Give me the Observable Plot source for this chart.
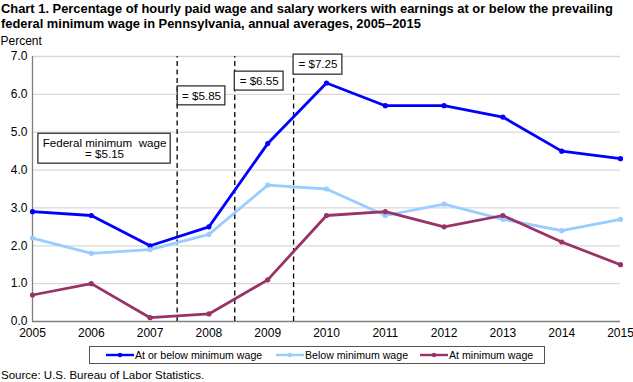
<!DOCTYPE html>
<html>
<head>
<meta charset="utf-8">
<script src="https://cdn.jsdelivr.net/npm/d3@7"></script>
<script src="https://cdn.jsdelivr.net/npm/@observablehq/plot@0.6"></script>
<style>
  body { margin: 0; background: #fff; font-family: Arial, "Liberation Sans", sans-serif; }
  #wrap { position: relative; width: 633px; height: 382px; overflow: hidden; }
  #title { position: absolute; left: 1px; top: 1px; font-weight: bold; font-size: 12.9px; line-height: 15px; color: #000; white-space: nowrap; }
  #chart { position: absolute; left: 0; top: 34px; }
  #legend { position: absolute; left: 89px; top: 346px; width: 454px; height: 16px; border: 1px solid #555; box-sizing: content-box; font-size: 10.6px; }
  .item { position: absolute; top: 0; height: 16px; display: flex; align-items: center; }
  #source { position: absolute; left: 1px; top: 369px; font-size: 11.5px; }
</style>
</head>
<body>
<div id="wrap">
  <div id="title">Chart 1. Percentage of hourly paid wage and salary workers with earnings at or below the prevailing<br>federal minimum wage in Pennsylvania, annual averages, 2005–2015</div>
  <div id="chart"></div>
  <div id="legend"></div>
  <div id="source">Source: U.S. Bureau of Labor Statistics.</div>
</div>
<script>
const years = [2005, 2006, 2007, 2008, 2009, 2010, 2011, 2012, 2013, 2014, 2015];
const atOrBelow = [2.9, 2.8, 2.0, 2.5, 4.7, 6.3, 5.7, 5.7, 5.4, 4.5, 4.3];
const belowMin = [2.2, 1.8, 1.9, 2.3, 3.6, 3.5, 2.8, 3.1, 2.7, 2.4, 2.7];
const atMin = [0.7, 1.0, 0.1, 0.2, 1.1, 2.8, 2.9, 2.5, 2.8, 2.1, 1.5];
const seriesNames = ["At or below minimum wage", "Below minimum wage", "At minimum wage"];
const seriesColors = ["#0000ff", "#99ccff", "#993366"];
const yTicks = [0, 1, 2, 3, 4, 5, 6, 7];

// Minimum wage change markers (year position of the dashed line)
const wageChanges = [2007.46, 2008.44, 2009.44];
// Annotation boxes
const notes = [
  {x1: 2005.1, x2: 2007.35, y1: 4.17, y2: 4.96, lines: ["Federal minimum  wage", "= $5.15"]},
  {x1: 2007.47, x2: 2008.28, y1: 5.71, y2: 6.21, lines: ["= $5.85"]},
  {x1: 2008.44, x2: 2009.27, y1: 6.10, y2: 6.60, lines: ["= $6.55"]},
  {x1: 2009.44, x2: 2010.27, y1: 6.52, y2: 7.05, lines: ["= $7.25"]}
];

const seriesValues = [atOrBelow, belowMin, atMin];
const data = [];
seriesNames.forEach((name, i) => {
  years.forEach((yr, j) => data.push({series: name, year: yr, value: seriesValues[i][j]}));
});

const noteText = notes.map(n => ({x: (n.x1 + n.x2) / 2, y: (n.y1 + n.y2) / 2, text: n.lines.join("\n")}));

const chart = Plot.plot({
  width: 633,
  height: 306,
  marginLeft: 32,
  marginRight: 13,
  marginTop: 22,
  marginBottom: 19,
  style: {fontFamily: "Arial, 'Liberation Sans', sans-serif", fontSize: "12px", color: "#000", background: "#fff"},
  x: {domain: [2005, 2015], ticks: years, tickFormat: d => String(d)},
  y: {domain: [0, 7], ticks: yTicks},
  color: {domain: seriesNames, range: seriesColors},
  marks: [
    Plot.gridY(yTicks.filter(d => d > 0), {stroke: "#d9d9d9", strokeOpacity: 1, strokeWidth: 1.3}),
    Plot.axisX({ticks: years, tickSize: 0, tickPadding: 7, tickFormat: d => String(d), fontSize: 12, label: null}),
    Plot.axisY({ticks: yTicks, tickSize: 0, tickPadding: 5, tickFormat: d => d.toFixed(1), fontSize: 12, label: null}),
    Plot.ruleY([0], {stroke: "#7f7f7f", strokeWidth: 1.3}),
    Plot.ruleX([2005], {stroke: "#7f7f7f", strokeWidth: 1.3}),
    Plot.ruleX(wageChanges, {x: d => d, y1: 0, y2: 7, stroke: "#000", strokeWidth: 1.3, strokeDasharray: "5,3.5"}),
    Plot.line(data, {x: "year", y: "value", z: "series", stroke: "series", strokeWidth: 2.8}),
    Plot.dot(data, {x: "year", y: "value", fill: "series", r: 2.6}),
    Plot.rect(notes, {x1: "x1", x2: "x2", y1: "y1", y2: "y2", fill: "#fff", stroke: "#222", strokeWidth: 1.2}),
    Plot.text(noteText, {x: "x", y: "y", text: "text", fontSize: 11.6, fill: "#000", lineHeight: 1.0}),
    Plot.text(["Percent"], {frameAnchor: "top-left", dx: -32, dy: -20, textAnchor: "start", fontSize: 12, fill: "#000"})
  ]
});
document.getElementById("chart").appendChild(chart);

// Legend
const legend = document.getElementById("legend");
const itemLefts = [16, 186, 330];
seriesNames.forEach((name, i) => {
  const item = document.createElement("div");
  item.className = "item";
  item.style.left = itemLefts[i] + "px";
  const c = seriesColors[i];
  item.innerHTML = `<svg width="28" height="10" style="margin-right:1px"><line x1="0" x2="28" y1="5" y2="5" stroke="${c}" stroke-width="2.4"/><circle cx="14" cy="5" r="2.2" fill="${c}"/></svg><span>${name}</span>`;
  legend.appendChild(item);
});
</script>
</body>
</html>
